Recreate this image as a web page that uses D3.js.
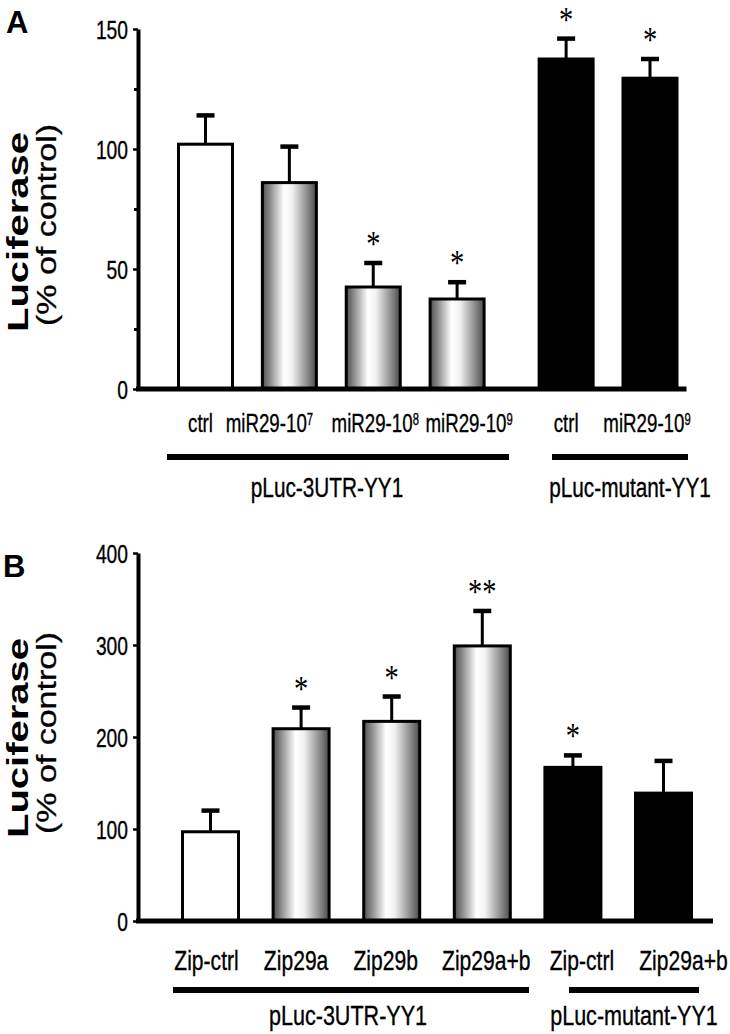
<!DOCTYPE html>
<html>
<head>
<meta charset="utf-8">
<script src="https://cdn.jsdelivr.net/npm/d3@7"></script>
<style>
body { margin: 0; background: #fff; }
text { font-family: "Liberation Sans", Arial, sans-serif; fill: #000; }
text.lbl { stroke: #000; stroke-width: 0.35px; }
</style>
</head>
<body>
<svg id="fig" width="730" height="1034"></svg>
<script>
/* valeurs (panneau A) */
var catsA = ["ctrl", "miR29-10", "miR29-10", "miR29-10", "ctrl", "miR29-10"];
var supA = ["", "7", "8", "9", "", "9"];
var meanA = [102, 86, 42.5, 37.5, 137.5, 129.5];
var semA = [12, 15, 10, 7, 8.5, 8];
var starA = ["", "", "*", "*", "*", "*"];
var ticksA = [0, 50, 100, 150];
var minorA = [25, 75, 125];

/* panneau B */
var catsB = ["Zip-ctrl", "Zip29a", "Zip29b", "Zip29a+b", "Zip-ctrl", "Zip29a+b"];
var supB = ["", "", "", "", "", ""];
var meanB = [97, 209, 217, 299, 167, 139];
var semB = [23, 23, 27, 38, 13, 35];
var starB = ["", "*", "*", "**", "*", ""];
var ticksB = [0, 100, 200, 300, 400];
var minorB = [];

/* commun aux deux panneaux */
var fills = ["white", "grad", "grad", "grad", "black", "black"];
var groups = ["pLuc-3UTR-YY1", "pLuc-mutant-YY1"];

var SX = 0.79; // la figure d'origine est un peu ecrasee en largeur
var svg = d3.select("#fig");

/* degrade "cylindre" des barres grises */
var grad = svg.append("defs").append("linearGradient")
    .attr("id", "cyl")
    .attr("x1", "0").attr("x2", "1").attr("y1", "0").attr("y2", "0");
[[0, "#505050"], [0.14, "#8a8a8a"], [0.4, "#fff"], [0.55, "#f2f2f2"], [0.85, "#858585"], [1, "#4a4a4a"]]
    .forEach(function (s) {
        grad.append("stop").attr("offset", s[0]).attr("stop-color", s[1]);
    });

/* texte horizontal etroit, comme sur la figure */
function htext(g, x, y, str, size, sx, anchor) {
    return g.append("text")
        .attr("class", "lbl")
        .attr("transform", "translate(" + x + "," + y + ") scale(" + sx + ",1)")
        .attr("text-anchor", anchor || "middle")
        .style("font-size", size + "px")
        .text(str);
}

function drawPanel(p) {
    var g = svg.append("g");
    var y = p.y, x = p.x;
    var n = p.mean.length;

    /* lettre du panneau */
    g.append("text")
        .attr("x", p.letter[1]).attr("y", p.letter[2])
        .style("font-size", "31px").style("font-weight", "bold")
        .text(p.letter[0]);

    /* titres de l'axe y */
    g.append("text")
        .attr("transform", "translate(27.5," + p.titleY + ") rotate(-90) scale(1,0.75)")
        .attr("text-anchor", "middle")
        .style("font-size", "40px").style("font-weight", "bold")
        .text("Luciferase");
    g.append("text")
        .attr("class", "lbl")
        .attr("transform", "translate(56," + p.titleY2 + ") rotate(-90) scale(1," + SX + ")")
        .attr("text-anchor", "middle")
        .style("font-size", "34px")
        .text("(% of control)");

    /* axe y */
    var ax = g.append("g").attr("transform", "translate(138,0)")
        .call(d3.axisLeft(y).tickValues(p.ticks).tickSize(5).tickSizeOuter(0));
    ax.select(".domain").attr("stroke-width", 4).attr("stroke", "#000");
    ax.selectAll(".tick line").attr("stroke-width", 2.5);
    ax.selectAll(".tick text")
        .attr("class", "lbl")
        .attr("x", null).attr("dy", null)
        .attr("transform", "translate(-10,9) scale(0.74,1)")
        .style("font-size", "26px").style("font-family", "Liberation Sans, Arial, sans-serif");
    if (p.minor.length) {
        var mx = g.append("g").attr("transform", "translate(138,0)")
            .call(d3.axisLeft(y).tickValues(p.minor).tickSize(4).tickFormat(""));
        mx.select(".domain").remove();
        mx.selectAll(".tick line").attr("stroke-width", 3);
    }

    var idx = d3.range(n);

    /* barres */
    g.selectAll("rect.bar").data(idx).enter().append("rect")
        .attr("class", "bar")
        .attr("x", function (i) { return x(p.slot(i)) - p.barW / 2 + 1.5; })
        .attr("width", p.barW - 3)
        .attr("y", function (i) { return y(p.mean[i]); })
        .attr("height", function (i) { return y(0) - y(p.mean[i]); })
        .attr("fill", function (i) {
            return fills[i] === "grad" ? "url(#cyl)" : fills[i];
        })
        .attr("stroke", "#000")
        .attr("stroke-width", 3);

    /* barres d'erreur */
    g.selectAll("line.err").data(idx).enter().append("line")
        .attr("x1", function (i) { return x(p.slot(i)); })
        .attr("x2", function (i) { return x(p.slot(i)); })
        .attr("y1", function (i) { return y(p.mean[i]); })
        .attr("y2", function (i) { return y(p.mean[i] + p.sem[i]); })
        .attr("stroke", "#000").attr("stroke-width", 3);
    g.selectAll("line.cap").data(idx).enter().append("line")
        .attr("x1", function (i) { return x(p.slot(i)) - 9; })
        .attr("x2", function (i) { return x(p.slot(i)) + 9; })
        .attr("y1", function (i) { return y(p.mean[i] + p.sem[i]); })
        .attr("y2", function (i) { return y(p.mean[i] + p.sem[i]); })
        .attr("stroke", "#000").attr("stroke-width", 4.5);

    /* etoiles de significativite */
    g.selectAll("text.star").data(idx.filter(function (i) { return p.star[i]; }))
        .enter().append("text")
        .attr("transform", function (i) {
            return "translate(" + x(p.slot(i)) + "," + (y(p.mean[i] + p.sem[i]) - 7) + ") scale(" + SX + ",1)";
        })
        .attr("text-anchor", "middle")
        .style("font-family", "Liberation Serif, Times New Roman, serif")
        .style("font-size", "36px")
        .text(function (i) { return p.star[i]; });

    /* ligne de base */
    g.append("line")
        .attr("x1", 136).attr("x2", x(p.slot(n - 1)) + p.barW / 2 + p.basePad)
        .attr("y1", y(0)).attr("y2", y(0))
        .attr("stroke", "#000").attr("stroke-width", 5);

    /* etiquettes des categories */
    idx.forEach(function (i) {
        var t = htext(g, x(p.slot(i)) + p.labelDx[i], p.labelY, "", p.labelSize, p.labelSX);
        t.append("tspan").text(p.cats[i]);
        if (p.sup[i]) {
            t.append("tspan").attr("dy", "-0.45em").style("font-size", "60%").text(p.sup[i]);
        }
    });

    /* groupes de plasmides */
    groups.forEach(function (name, k) {
        g.append("line")
            .attr("x1", p.lineX[k][0]).attr("x2", p.lineX[k][1])
            .attr("y1", p.lineY[k]).attr("y2", p.lineY[k])
            .attr("stroke", "#000").attr("stroke-width", 6);
        htext(g, p.groupX[k], p.groupY[k], name, p.groupSize, 0.77);
    });
}

/* panneau A */
drawPanel({
    letter: ["A", 6, 33],
    y: d3.scaleLinear().domain([0, 150]).range([389, 29]),
    x: d3.scaleLinear().domain([0, 5.3]).range([205.5, 650]),
    slot: function (i) { return i < 4 ? i : i + 0.3; },
    barW: 57, basePad: 8,
    mean: meanA, sem: semA, star: starA, cats: catsA, sup: supA,
    ticks: ticksA, minor: minorA,
    titleY: 232, titleY2: 225,
    labelY: 432, labelSize: 26, labelSX: 0.72, labelDx: [-5, -20, 2, 12, 0, -3],
    lineX: [[167, 509], [552, 688]], lineY: [457, 457],
    groupX: [327, 630], groupY: [497, 497], groupSize: 27
});

/* panneau B */
drawPanel({
    letter: ["B", 3, 577],
    y: d3.scaleLinear().domain([0, 400]).range([921, 553]),
    x: d3.scaleLinear().domain([0, 5]).range([210.5, 663.5]),
    slot: function (i) { return i; },
    barW: 59, basePad: 20,
    mean: meanB, sem: semB, star: starB, cats: catsB, sup: supB,
    ticks: ticksB, minor: minorB,
    titleY: 738, titleY2: 733,
    labelY: 970, labelSize: 28.5, labelSX: 0.74, labelDx: [-4, -5, -6, 4, 9, 20],
    lineX: [[173, 529], [569, 699]], lineY: [990, 990],
    groupX: [348, 634], groupY: [1025, 1025], groupSize: 28
});
</script>
</body>
</html>
